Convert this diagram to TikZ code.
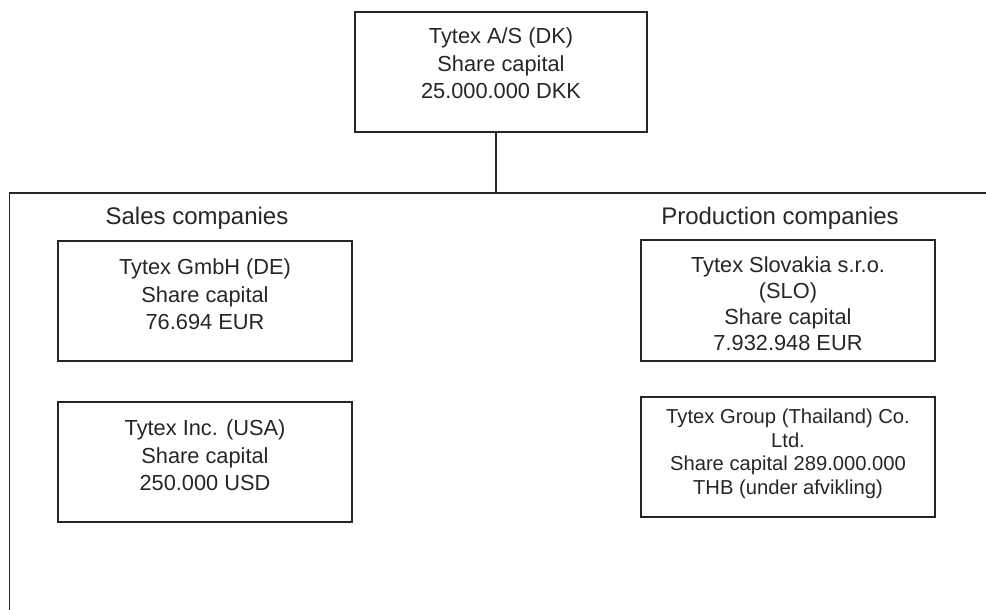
\documentclass[tikz,border=0pt]{standalone}
\usepackage{fontspec}
\setmainfont{Liberation Sans}
\begin{document}
\begin{tikzpicture}[x=1pt,y=-1pt,
  boxstyle/.style={draw=black!85, line width=1.5pt, minimum width=#1, inner sep=0pt},
  txt/.style={align=center, text=black!85, font=\fontsize{21.8}{27.5}\selectfont},
  smalltxt/.style={align=center, text=black!85, font=\fontsize{20.2}{23.5}\selectfont},
  head/.style={text=black!85, font=\fontsize{24}{28}\selectfont},
  line/.style={draw=black!85, line width=1.5pt}]
\useasboundingbox (0,0) rectangle (986,610);
% top box
\node[boxstyle=292pt, minimum height=120pt] (top) at (501,72) {};
\node[txt] (toptxt) at (501,63.5) {Tytex A/S (DK)\\Share capital\\25.000.000 DKK};
% frame
\coordinate (joint) at (496,193);
\coordinate (fl) at (9.5,193);
\coordinate (fr) at (990,193);
\coordinate (fb) at (9.5,615);
\draw[line] (joint |- top.south) -- (joint);
\draw[line] (fb) -- (fl) -- (fr);
% headings
\node[head] (sales) at (197,218) {Sales companies};
\node[head] (prod) at (780,218) {Production companies};
% sales boxes
\node[boxstyle=294pt, minimum height=120pt] (gmbh) at (205,301) {};
\node[txt] (gmbhtxt) at (205,294.5) {Tytex GmbH (DE)\\Share capital\\76.694 EUR};
\node[boxstyle=294pt, minimum height=120pt] (inc) at (205,462) {};
\node[txt] (inctxt) at (205,455.5) {Tytex Inc. (USA)\\Share capital\\250.000 USD};
% production boxes
\node[boxstyle=294pt, minimum height=121pt] (slo) at (788,300.5) {};
\node[txt, font=\fontsize{21.8}{26}\selectfont] (slotxt) at (788,303.5) {Tytex Slovakia s.r.o.\\(SLO)\\Share capital\\7.932.948 EUR};
\node[boxstyle=294pt, minimum height=120pt] (thai) at (788,457) {};
\node[smalltxt] (thaitxt) at (788,454) {Tytex Group (Thailand) Co.\\Ltd.\\Share capital 289.000.000\\THB (under afvikling)};
\end{tikzpicture}
\end{document}
